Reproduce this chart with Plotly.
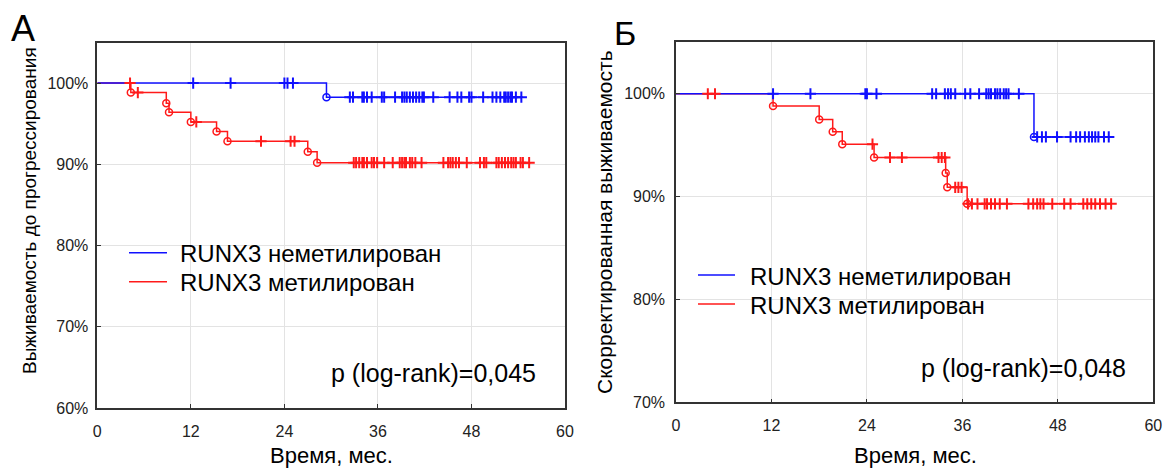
import plotly.graph_objects as go

# ---------------- DATA ----------------
series_names = ["RUNX3 неметилирован", "RUNX3 метилирован"]
panel_letters = ["А", "Б"]
y_titles = ["Выживаемость до прогрессирования", "Скорректированная выживаемость"]
x_title = "Время, мес."
p_texts = ["p (log-rank)=0,045", "p (log-rank)=0,048"]
x_ticks = [0, 12, 24, 36, 48, 60]
a_y_ticks = [60, 70, 80, 90, 100]
a_y_labels = ["60%", "70%", "80%", "90%", "100%"]
b_y_ticks = [70, 80, 90, 100]
b_y_labels = ["70%", "80%", "90%", "100%"]

# Panel A – progression-free survival
a_unmeth_event_t = [29.4]
a_unmeth_event_s = [98.27]
a_unmeth_cens_t = [12.3, 17.1, 24.0, 24.4, 25.1,
                   32.4, 32.8, 34.0, 34.2, 34.6, 35.2, 36.5, 36.8, 38.2, 39.1, 39.4, 39.7,
                   40.1, 40.5, 40.9, 41.3, 41.7, 41.9, 43.1, 45.2, 46.2, 46.7, 47.7, 48.0,
                   49.5, 50.7, 51.2, 51.7, 52.2, 52.4, 52.7, 53.0, 53.2, 53.7, 54.4]
a_unmeth_end = 54.6

a_meth_event_t = [4.3, 8.85, 9.2, 12.0, 15.3, 16.7, 27.0, 28.2]
a_meth_event_s = [98.84, 97.53, 96.42, 95.22, 94.03, 92.84, 91.56, 90.2]
a_meth_cens_t = [4.2, 5.2, 12.7, 21.0, 24.8, 25.3,
                 32.9, 33.2, 33.6, 34.0, 34.2, 34.6, 35.2, 35.5, 35.9, 36.8, 37.9, 38.8,
                 39.1, 39.4, 39.6, 40.1, 40.4, 40.8, 41.6, 44.4, 45.0, 45.3, 45.6, 46.0,
                 46.4, 47.4, 49.1, 49.6, 49.9, 51.2, 51.5, 51.9, 52.3, 52.7, 53.1, 53.4,
                 53.7, 54.3, 54.6, 55.4]
a_meth_end = 55.6

# Panel B – adjusted survival
b_unmeth_event_t = [45.0]
b_unmeth_event_s = [95.8]
b_unmeth_cens_t = [12.2, 16.9, 23.8, 24.0, 25.2,
                   32.2, 32.7, 33.8, 34.2, 34.55, 35.1, 36.35, 37.0, 38.1, 39.0, 39.3, 39.6,
                   40.1, 40.4, 40.75, 41.2, 41.5, 41.8, 43.1,
                   45.4, 46.0, 46.5, 47.9, 49.6, 50.3, 50.8, 51.4, 51.9, 52.3, 52.7, 53.1,
                   53.8, 54.4]
b_unmeth_end = 54.7

b_meth_event_t = [12.2, 18.0, 19.7, 20.9, 24.9, 33.9, 34.1, 36.6]
b_meth_event_s = [98.8, 97.5, 96.3, 95.1, 93.8, 92.3, 90.9, 89.3]
b_meth_cens_t = [4.0, 4.9, 24.7, 26.9, 28.4, 33.0, 33.4, 33.8,
                 35.1, 35.5, 35.9,
                 36.7, 37.2, 37.9, 38.8, 39.1, 39.6, 40.1, 40.7, 41.6, 44.3, 44.9, 45.4,
                 45.8, 46.2, 47.3, 48.8, 49.6, 51.2, 51.7, 52.2, 52.7, 53.3, 54.0, 54.7]
b_meth_end = 54.8

BLUE = "#1010ff"
RED = "#ff1a1a"
COLORS = [BLUE, RED]
FONT = "Liberation Sans, Arial, sans-serif"

W, H = 1164, 468


def px(x):
    return x / W


def py(y):
    return 1 - y / H


def level_at(t, ev_t, ev_s):
    s = 100.0
    for ti, si in zip(ev_t, ev_s):
        if ti <= t:
            s = si
    return s


fig = go.Figure()

panels = [
    ("x", "y", [(a_unmeth_event_t, a_unmeth_event_s, a_unmeth_cens_t, a_unmeth_end, BLUE),
                (a_meth_event_t, a_meth_event_s, a_meth_cens_t, a_meth_end, RED)]),
    ("x2", "y2", [(b_unmeth_event_t, b_unmeth_event_s, b_unmeth_cens_t, b_unmeth_end, BLUE),
                  (b_meth_event_t, b_meth_event_s, b_meth_cens_t, b_meth_end, RED)]),
]

# step lines first (methylated under unmethylated), then the marks
for xa, ya, groups in panels:
    for k in (1, 0):
        ev_t, ev_s, c_t, end, col = groups[k]
        fig.add_trace(go.Scatter(
            x=[0] + ev_t + [end], y=[100] + ev_s + [ev_s[-1]],
            mode="lines", line=dict(color=col, width=1.5, shape="hv"),
            name=series_names[k], showlegend=False,
            xaxis=xa, yaxis=ya, hoverinfo="skip"))
for xa, ya, groups in panels:
    for k in (1, 0):
        ev_t, ev_s, c_t, end, col = groups[k]
        fig.add_trace(go.Scatter(
            x=ev_t, y=ev_s, mode="markers",
            marker=dict(symbol="circle-open", size=7, color=col, line=dict(width=1.5, color=col)),
            showlegend=False, xaxis=xa, yaxis=ya, hoverinfo="skip"))
        fig.add_trace(go.Scatter(
            x=c_t, y=[level_at(t, ev_t, ev_s) for t in c_t], mode="markers",
            marker=dict(symbol="cross-thin-open", size=8, color=col, line=dict(width=2, color=col)),
            showlegend=False, xaxis=xa, yaxis=ya, hoverinfo="skip"))

axis_common = dict(showline=True, mirror=True, linecolor="#333", linewidth=1.5,
                   showgrid=True, gridcolor="#e3e3e3", gridwidth=1, zeroline=False,
                   ticks="inside", ticklen=4, tickcolor="#333", automargin=False,
                   tickfont=dict(family=FONT, size=16, color="#222"))

fig.update_layout(
    width=W, height=H, autosize=False,
    margin=dict(l=0, r=0, t=0, b=0),
    paper_bgcolor="white", plot_bgcolor="white",
    font=dict(family=FONT, color="black"),
    showlegend=False,
    xaxis=dict(domain=[px(97.3), px(565)], range=[0, 60], tickvals=x_ticks,
               anchor="y", ticklabelstandoff=8, **axis_common),
    yaxis=dict(domain=[py(408), py(42.5)], range=[60, 105], tickvals=a_y_ticks,
               ticktext=a_y_labels, anchor="x", ticklabelstandoff=4, **axis_common),
    xaxis2=dict(domain=[px(676), px(1153.3)], range=[0, 60], tickvals=x_ticks,
                anchor="y2", ticklabelstandoff=8, **axis_common),
    yaxis2=dict(domain=[py(402.3), py(42.3)], range=[70, 105], tickvals=b_y_ticks,
                ticktext=b_y_labels, anchor="x2", ticklabelstandoff=6, **axis_common),
)

# legends (line sample + label) in each panel
legend_boxes = [  # (line x0, line x1, text x, y first row, row gap) in pixels
    (129, 167, 178, 252.7, 29),
    (698, 735, 748, 275, 29),
]
shapes = []
annotations = []
for (lx0, lx1, tx, y0, gap) in legend_boxes:
    for k, name in enumerate(series_names):
        yy = py(y0 + k * gap)
        shapes.append(dict(type="line", xref="paper", yref="paper", x0=px(lx0), x1=px(lx1),
                           y0=yy, y1=yy, line=dict(color=COLORS[k], width=1.5)))
        annotations.append(dict(text=name, x=px(tx), y=py(y0 + k * gap + 1),
                                xanchor="left", font=dict(size=24)))

annotations += [
    dict(text=panel_letters[0], x=px(22.5), y=py(28), font=dict(size=36)),
    dict(text=panel_letters[1], x=px(624.5), y=py(33), font=dict(size=34)),
    dict(text=y_titles[0], x=px(30), y=py(211), textangle=-90, font=dict(size=19)),
    dict(text=y_titles[1], x=px(604), y=py(222), textangle=-90, font=dict(size=21)),
    dict(text=x_title, x=px(331.5), y=py(455), font=dict(size=22)),
    dict(text=x_title, x=px(915), y=py(455), font=dict(size=22)),
    dict(text=p_texts[0], x=px(538), y=py(373), xanchor="right", font=dict(size=25)),
    dict(text=p_texts[1], x=px(1128), y=py(368), xanchor="right", font=dict(size=25)),
]
for a in annotations:
    a.setdefault("xanchor", "center")
    a.update(xref="paper", yref="paper", yanchor="middle", showarrow=False)
    a["font"].update(family=FONT, color="black")
fig.update_layout(annotations=annotations, shapes=shapes)

# remove the browser's default 8px body margin so the 1164x468 figure fills the window
fig.write_html("out.html", config={"displayModeBar": False},
               post_script="document.body.style.margin='0';")
